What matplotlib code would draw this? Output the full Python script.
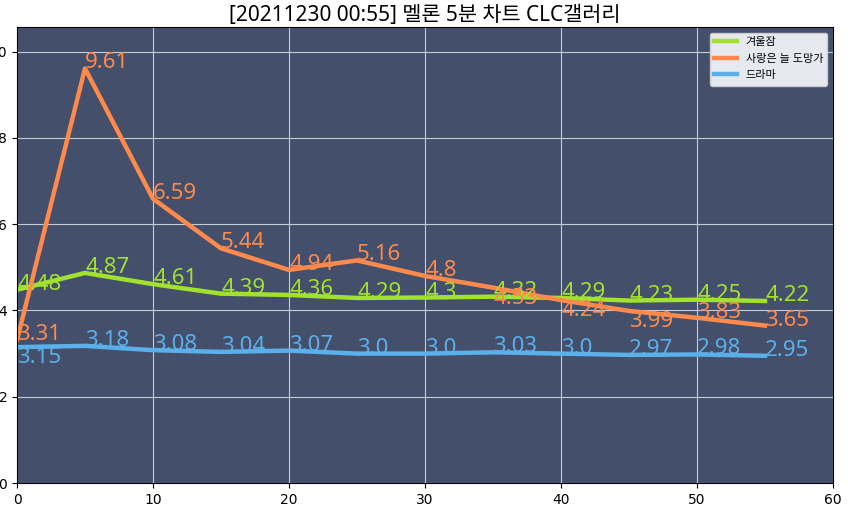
import matplotlib
matplotlib.use('Agg')
import matplotlib.pyplot as plt

plt.rcParams['font.family'] = ['Noto Sans', 'Noto Sans CJK KR', 'DejaVu Sans']

title = '[20211230 00:55] 멜론 5분 차트 CLC갤러리'
minutes = [0, 5, 10, 15, 20, 25, 30, 35, 40, 45, 50, 55]
names = ['겨울잠', '사랑은 늘 도망가', '드라마']
winter = [4.48, 4.87, 4.61, 4.39, 4.36, 4.29, 4.3, 4.32, 4.29, 4.23, 4.25, 4.22]
runaway = [3.31, 9.61, 6.59, 5.44, 4.94, 5.16, 4.8, 4.53, 4.24, 3.99, 3.83, 3.65]
drama = [3.15, 3.18, 3.08, 3.04, 3.07, 3.0, 3.0, 3.03, 3.0, 2.97, 2.98, 2.95]

colors = ['#a2e22e', '#ff8a4c', '#5cb0ea']
# labels drawn under the point instead of above it
below = {(2, 0), (1, 7), (1, 8), (1, 9)}

fig = plt.figure(figsize=(8.5, 5.09), dpi=100)
ax = fig.add_axes([0.02, 0.051, 0.96, 0.896])
ax.set_facecolor('#434f6b')

series = [winter, runaway, drama]
for i, vals in enumerate(series):
    ax.plot(minutes, vals, color=colors[i], linewidth=3.2, label=names[i])
for i, vals in enumerate(series):
    for j, (x, y) in enumerate(zip(minutes, vals)):
        va = 'top' if (i, j) in below else 'baseline'
        ax.text(x, y, str(y), color=colors[i], fontsize=16, ha='left', va=va)

ax.set_xlim(0, 60)
ax.set_ylim(0, max(runaway) * 1.1)
ax.grid(True, color='#c8ccd8', linewidth=0.8)
ax.set_axisbelow(True)
for lbl in ax.get_xticklabels() + ax.get_yticklabels():
    lbl.set_family('DejaVu Sans')
ax.tick_params(labelsize=10)
ax.set_title(title, fontsize=15, pad=4)
ax.legend(loc='upper right', fontsize=8, facecolor='#e6e9ef', framealpha=1)

plt.savefig('out.png')
